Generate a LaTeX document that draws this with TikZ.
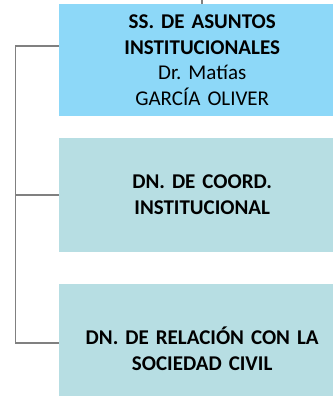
\documentclass[tikz,border=0pt]{standalone}
\usepackage{fontspec}
\setmainfont{Carlito}
\usepackage{tikz}
\usetikzlibrary{positioning}
\definecolor{ssblue}{HTML}{8DD8F8}
\definecolor{dnaqua}{HTML}{B7DEE3}
\definecolor{linegray}{HTML}{808080}
\tikzstyle{line}=[draw,linegray,line width=1.8pt]
\tikzstyle{unit} =
  [rectangle, anchor=north west, inner sep=0pt, text centered,
   minimum width=286pt, text width=280pt, align=center,
   font=\fontsize{21}{25.8}\selectfont\frenchspacing]

\begin{document}
\begin{tikzpicture}[x=1pt,y=-1pt]
  \useasboundingbox (0,0) rectangle (332,396);
  \node [unit, fill=ssblue, minimum height=112pt] at (59,4) (ss)
    {\textbf{SS. DE ASUNTOS}\\ \textbf{INSTITUCIONALES}\\ Dr. Matías\\ GARCÍA OLIVER};
  \node [unit, fill=dnaqua, minimum height=114pt] at (59,137.7) (coord)
    {\textbf{DN. DE COORD.}\\ \textbf{INSTITUCIONAL}};
  \node [unit, fill=dnaqua, minimum height=130pt] at (59,283.3) (rel)
    {\textbf{DN. DE RELACIÓN CON LA}\\ \textbf{SOCIEDAD CIVIL}};

  \coordinate (up) at (202.3,0);
  \coordinate (busT) at (15.5,45.7);
  \coordinate (busB) at (15.5,342.7);
  \draw [line] (up) -- (up |- ss.north);
  \draw [line] (ss.west |- busT) -- (busT) -- (busB) -- (rel.west |- busB);
  \draw [line] (coord.west) -- (coord.west -| busT);
\end{tikzpicture}
\end{document}
